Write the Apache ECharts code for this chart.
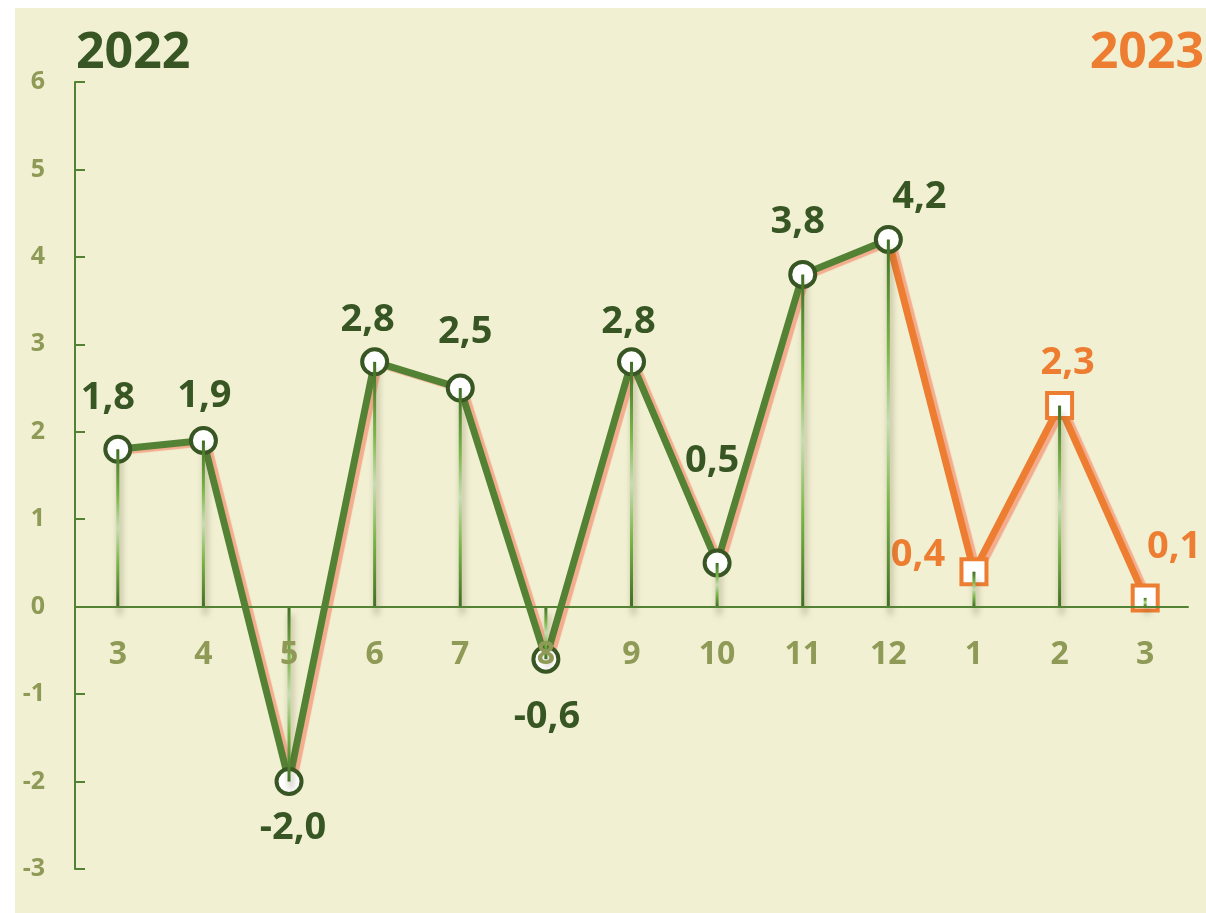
<!DOCTYPE html>
<html>
<head>
<meta charset="utf-8">
<script src="https://cdn.jsdelivr.net/npm/echarts@6/dist/echarts.min.js"></script>
<style>
    html, body {
        margin: 0;
        background: #fff;
    }
    #chart {
        position: absolute;
        left: 15px;
        top: 8px;
        width: 1191px;
        height: 905px;
        background: #f1f0d3;
    }
</style>
</head>
<body>
<div id="chart"></div>
<script>
// months, March 2022 .. March 2023
const months = ['3', '4', '5', '6', '7', '8', '9', '10', '11', '12', '1', '2', '3'];
const values2022 = [1.8, 1.9, -2.0, 2.8, 2.5, -0.6, 2.8, 0.5, 3.8, 4.2];
const values2023 = [0.4, 2.3, 0.1];
const yTicks = [-3, -2, -1, 0, 1, 2, 3, 4, 5, 6];

const darkGreen = '#375623';
const green = '#548235';
const orange = '#ed7d31';
const olive = '#8e9a56';
const font = 'Open Sans';

// where each value label sits relative to its point
const shift2022 = [[-10, -51], [1, -44], [4, 47], [-7, -42], [5, -56], [1, 58], [-3, -40], [-5, -102], [-5, -52], [31, -42]];
const shift2023 = [[-56, -17], [8, -42], [29, -51]];

const fmt = v => v.toFixed(1).replace('.', ',');

// green series: 2022 points, nothing after
const greenData = months.map((m, i) => {
    if (i >= values2022.length) return null;
    return {
        value: values2022[i],
        label: { offset: shift2022[i] }
    };
});

// orange series: starts from the last 2022 point, then 2023
const lastOf2022 = values2022[values2022.length - 1];
const orangeData = months.map((m, i) => {
    const k = i - values2022.length;
    if (k < -1) return null;
    if (k === -1) return { value: lastOf2022, symbol: 'none', label: { show: false } };
    return { value: values2023[k], label: { offset: shift2023[k] } };
});

// drop lines from every point to zero
const dropData = values2022.concat(values2023);

const gridTop = 74, gridBottom = 44;
const gridHeight = 905 - gridTop - gridBottom;
const yMin = yTicks[0], yMax = yTicks[yTicks.length - 1];
// lift the category axis (line + labels) up to the zero line
const zeroLift = -gridHeight * (0 - yMin) / (yMax - yMin);

const chart = echarts.init(document.getElementById('chart'));

const option = {
    animation: false,
    title: [
        {
            text: '2022',
            left: 56,
            top: 16,
            textStyle: { fontFamily: font, fontSize: 50, fontWeight: 'bold', color: darkGreen }
        },
        {
            text: '2023',
            right: -3,
            top: 16,
            textStyle: { fontFamily: font, fontSize: 50, fontWeight: 'bold', color: orange }
        }
    ],
    grid: {
        left: 60,
        right: 18,
        top: gridTop,
        bottom: gridBottom,
        containLabel: false,
        outerBoundsMode: 'none'
    },
    xAxis: {
        type: 'category',
        data: months,
        boundaryGap: true,
        position: 'bottom',
        offset: zeroLift,
        z: 6,
        axisLine: {
            onZero: false,
            lineStyle: { color: green, width: 2 }
        },
        axisTick: { show: false },
        axisLabel: {
            margin: 32,
            fontFamily: font,
            fontSize: 32,
            fontWeight: 'bold',
            color: olive
        },
        splitLine: { show: false }
    },
    yAxis: {
        type: 'value',
        min: yMin,
        max: yMax,
        interval: 1,
        axisLine: {
            show: true,
            onZero: false,
            lineStyle: { color: green, width: 2 }
        },
        axisTick: {
            show: true,
            inside: true,
            length: 10,
            lineStyle: { color: green, width: 2 }
        },
        axisLabel: {
            margin: 30,
            fontFamily: font,
            fontSize: 25,
            fontWeight: 'bold',
            color: olive
        },
        splitLine: { show: false }
    },
    series: [
        {
            name: '2023',
            type: 'line',
            z: 3,
            data: orangeData,
            symbol: 'rect',
            symbolSize: 25,
            lineStyle: {
                color: orange,
                width: 7,
                shadowColor: '#f4ac8e',
                shadowBlur: 1,
                shadowOffsetX: 4,
                shadowOffsetY: 2
            },
            itemStyle: {
                color: '#fff',
                borderColor: orange,
                borderWidth: 4
            },
            label: {
                show: true,
                position: 'inside',
                formatter: p => fmt(p.value),
                fontFamily: font,
                fontSize: 38,
                fontWeight: 'bold',
                color: orange
            }
        },
        {
            name: '2022',
            type: 'line',
            z: 4,
            data: greenData,
            symbol: 'circle',
            symbolSize: 25,
            lineStyle: {
                color: green,
                width: 7,
                shadowColor: '#f4ac8e',
                shadowBlur: 1,
                shadowOffsetX: 4,
                shadowOffsetY: 2
            },
            itemStyle: {
                color: '#fff',
                borderColor: darkGreen,
                borderWidth: 4
            },
            label: {
                show: true,
                position: 'inside',
                formatter: p => fmt(p.value),
                fontFamily: font,
                fontSize: 38,
                fontWeight: 'bold',
                color: darkGreen
            }
        },
        {
            name: 'drop',
            type: 'bar',
            z: 5,
            data: dropData,
            barWidth: 3,
            silent: true,
            itemStyle: {
                color: new echarts.graphic.LinearGradient(0, 0, 0, 1, [
                    { offset: 0, color: '#3f6f24' },
                    { offset: 0.3, color: '#7ab648' },
                    { offset: 0.5, color: '#c6deb2' },
                    { offset: 0.72, color: '#7ab648' },
                    { offset: 1, color: '#3f6f24' }
                ]),
                shadowColor: 'rgba(90, 80, 40, 0.5)',
                shadowBlur: 6,
                shadowOffsetX: 2,
                shadowOffsetY: 8
            }
        }
    ]
};
chart.setOption(option);
</script>
</body>
</html>
